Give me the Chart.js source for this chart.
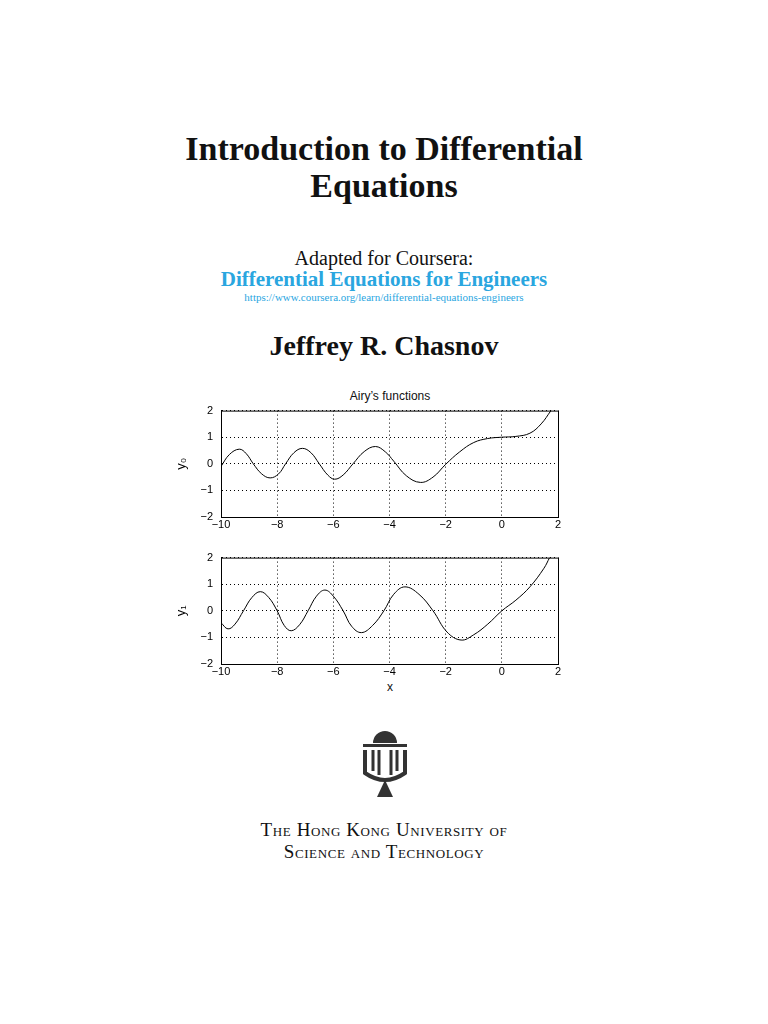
<!DOCTYPE html>
<html><head><meta charset="utf-8">
<script src="https://cdn.jsdelivr.net/npm/chart.js@4"></script>
<style>
body{margin:0;background:#fff;width:768px;height:1024px;position:relative;font-family:"Liberation Serif","DejaVu Serif",serif;color:#111}
.t{position:absolute;left:0;width:768px;text-align:center;white-space:nowrap}
canvas{position:absolute}
.sc{font-variant:small-caps;font-size:19px;letter-spacing:0.6px}
</style></head><body>
<div class="t" style="top:130px;font-size:34px;font-weight:bold;line-height:37px">Introduction to Differential<br>Equations</div>
<div class="t" style="top:248px;font-size:20px;line-height:21px">Adapted for Coursera:</div>
<div class="t" style="top:269px;font-size:21px;line-height:21px;font-weight:bold;color:#2aa6df">Differential Equations for Engineers</div>
<div class="t" style="top:291px;font-size:11px;line-height:12px;color:#2aa6df">https://www.coursera.org/learn/differential-equations-engineers</div>
<div class="t" style="top:330px;font-size:28px;font-weight:bold">Jeffrey R. Chasnov</div>
<div class="t" style="top:389px;left:0;width:780px;font:12px 'Liberation Sans',sans-serif">Airy’s functions</div>
<div class="t" style="top:680px;left:0;width:780px;font:12px 'Liberation Sans',sans-serif">x</div>
<canvas id="c1" style="left:170px;top:396px;width:400px;height:141px" width="400" height="141"></canvas>
<canvas id="c2" style="left:170px;top:543px;width:400px;height:141px" width="400" height="141"></canvas>
<svg style="position:absolute;left:355px;top:725px" width="60" height="75" viewBox="0 0 60 75">
  <path d="M18 18 A12 12 0 0 1 42 18 Z" fill="#333"/>
  <rect x="8" y="19" width="44" height="3" fill="#333"/>
  <path d="M10 25 L10 48 Q30 62 50 48 L50 25" fill="none" stroke="#333" stroke-width="4"/>
  <path d="M18 25 L18 46 M24 25 L24 50 M36 25 L36 50 M42 25 L42 46" stroke="#333" stroke-width="3"/>
  <path d="M30 55 L22 72 L38 72 Z" fill="#333"/>
</svg>
<div class="t sc" style="top:819px">The Hong Kong University of</div>
<div class="t sc" style="top:841px">Science and Technology</div>
<script>
const xTicks = [-10, -8, -6, -4, -2, 0, 2];
const yTicks = [-2, -1, 0, 1, 2];
const x0 = [-10, -9.7, -9.35, -9.1, -8.85, -8.55, -8.25, -7.95, -7.7, -7.4, -7.1, -6.8, -6.5, -6.2, -5.95, -5.65, -5.3, -4.9, -4.5, -4.15, -3.85, -3.4, -2.9, -2.45, -2.0, -1.5, -1.0, -0.5, 0, 0.5, 1.0, 1.4, 1.75];
const y0 = [-0.1, 0.35, 0.55, 0.38, 0, -0.38, -0.53, -0.38, 0, 0.42, 0.58, 0.42, 0, -0.42, -0.58, -0.42, 0, 0.46, 0.65, 0.45, 0.1, -0.45, -0.7, -0.5, -0.02, 0.45, 0.8, 0.95, 1.0, 1.03, 1.15, 1.5, 2.0];
const x1 = [-10, -9.75, -9.5, -9.2, -8.9, -8.6, -8.3, -8.0, -7.75, -7.5, -7.2, -6.9, -6.6, -6.3, -6.0, -5.65, -5.35, -5.0, -4.6, -4.2, -3.85, -3.45, -2.95, -2.45, -1.95, -1.45, -1.0, -0.5, 0, 0.5, 1.0, 1.5, 1.7];
const y1 = [-0.45, -0.68, -0.5, 0, 0.5, 0.72, 0.5, 0, -0.55, -0.75, -0.52, 0, 0.55, 0.78, 0.55, 0, -0.58, -0.82, -0.55, 0, 0.62, 0.9, 0.62, 0, -0.8, -1.1, -0.9, -0.5, 0, 0.4, 0.9, 1.6, 2.0];

const tickFmt = v => String(v).replace('-', '\u2212');
const boxPlugin = {
  id: 'box',
  afterDraw(chart) {
    const a = chart.chartArea, c = chart.ctx;
    c.save(); c.strokeStyle = '#000'; c.lineWidth = 1;
    c.strokeRect(a.left + 0.5, a.top + 0.5, a.right - a.left, a.bottom - a.top);
    c.restore();
  }
};
function make(id, xs, ys, label) {
  new Chart(document.getElementById(id), {
    type: 'line',
    data: { datasets: [{ data: xs.map((x, i) => ({ x: x, y: ys[i] })), borderColor: '#000', borderWidth: 1, pointRadius: 0, tension: 0.4, clip: 0 }] },
    options: {
      responsive: false, animation: false,
      layout: { padding: { top: 5, right: 12 } },
      plugins: { legend: { display: false }, tooltip: { enabled: false } },
      scales: {
        x: {
          type: 'linear', min: -10, max: 2,
          afterBuildTicks: s => { s.ticks = xTicks.map(v => ({ value: v })); },
          afterFit: s => { s.height = 20; },
          ticks: { callback: tickFmt, color: '#000', font: { family: 'Liberation Sans', size: 11 }, maxRotation: 0, padding: 1 },
          grid: { color: '#000', lineWidth: 1, drawTicks: false },
          border: { dash: [1, 3], color: '#000' }
        },
        y: {
          min: -2, max: 2,
          afterBuildTicks: s => { s.ticks = yTicks.map(v => ({ value: v })); },
          afterFit: s => { s.width = 51; },
          title: { display: true, text: label, color: '#000', font: { family: 'Liberation Sans', size: 13 }, padding: 4 },
          ticks: { callback: tickFmt, color: '#000', font: { family: 'Liberation Sans', size: 11 }, padding: 8 },
          grid: { color: '#000', lineWidth: 1, drawTicks: false },
          border: { dash: [1, 3], color: '#000' }
        }
      }
    },
    plugins: [boxPlugin]
  });
}
make('c1', x0, y0, 'y\u2080');
make('c2', x1, y1, 'y\u2081');
</script>
</body></html>
